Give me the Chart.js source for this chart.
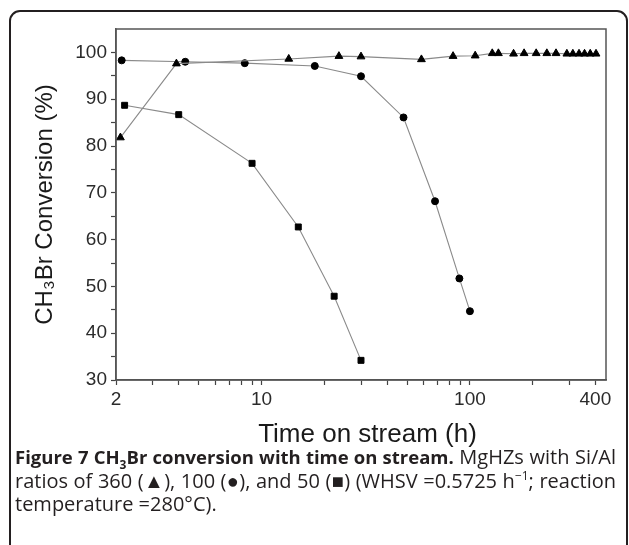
<!DOCTYPE html>
<html>
<head>
<meta charset="utf-8">
<script src="https://cdn.jsdelivr.net/npm/chart.js@4.4.1/dist/chart.umd.min.js"></script>
<style>
  html, body { margin: 0; padding: 0; background: #fff; overflow: hidden; }
  body { width: 629px; height: 545px; position: relative; }
  #frame { position: absolute; left: 9px; top: 10px; width: 615px; height: 600px;
           border: 2px solid #231f20; border-radius: 11px; }
  #wrap { position: absolute; left: 0; top: 0; width: 629px; height: 450px; }
  #caption { position: absolute; left: 15px; top: 445px; width: 601px;
             font-family: "Open Sans", sans-serif; font-size: 20px; line-height: 23.5px; color: #231f20; }
  #caption b { font-size: 18.5px; }
  #caption .j { text-align: justify; text-align-last: justify; white-space: nowrap; }
  #caption sub, #caption sup { font-size: 12px; line-height: 0; }
</style>
</head>
<body>
<div id="frame"></div>
<div id="wrap"><canvas id="chart" width="629" height="450"></canvas></div>
<div id="caption">
  <div class="j"><b>Figure 7 CH<sub>3</sub>Br conversion with time on stream.</b> MgHZs with Si/Al</div>
  <div class="j">ratios of 360 (▲), 100 (●), and 50 (■) (WHSV =0.5725 h<sup>−1</sup>; reaction</div>
  <div>temperature =280°C).</div>
</div>
<script>
// Si/Al = 360 (triangles)
var hours360 = [2.1, 3.9, 13.5, 23.5, 30, 58.5, 83, 106, 128, 137, 162, 182, 208, 234, 259, 292, 312, 334, 355, 378, 403];
var conv360  = [81.8, 97.6, 98.6, 99.2, 99.1, 98.5, 99.2, 99.3, 99.8, 99.8, 99.7, 99.8, 99.8, 99.8, 99.8, 99.7, 99.7, 99.7, 99.7, 99.7, 99.7];
// Si/Al = 100 (circles)
var hours100 = [2.13, 4.3, 8.3, 18, 30, 48, 68, 89, 100];
var conv100  = [98.3, 98.0, 97.7, 97.1, 94.9, 86.1, 68.2, 51.7, 44.7];
// Si/Al = 50 (squares)
var hours50 = [2.2, 4.0, 9.0, 15, 22.3, 30];
var conv50  = [88.7, 86.7, 76.3, 62.7, 47.9, 34.2];

var xTicks = [2, 3, 4, 5, 6, 7, 8, 9, 10, 20, 30, 40, 50, 60, 70, 80, 90, 100, 200, 300, 400];
var xLabels = [2, 10, 100, 400];
var yTicks = [30, 35, 40, 45, 50, 55, 60, 65, 70, 75, 80, 85, 90, 95, 100];
var yLabels = [30, 40, 50, 60, 70, 80, 90, 100];

function pts(xs, ys) {
    return xs.map(function (x, i) { return { x: x, y: ys[i] }; });
}

function series(label, xs, ys, style, r) {
    return {
        label: label,
        data: pts(xs, ys),
        borderColor: '#8a8a8a',
        borderWidth: 1.1,
        pointStyle: style,
        pointRadius: r,
        pointBackgroundColor: '#000',
        pointBorderColor: '#000',
        pointBorderWidth: 1,
        fill: false,
        tension: 0
    };
}

var boxPlugin = {
    id: 'box',
    afterDraw: function (chart) {
        var a = chart.chartArea, ctx = chart.ctx;
        ctx.save();
        ctx.strokeStyle = '#555';
        ctx.lineWidth = 1.5;
        ctx.strokeRect(a.left, a.top, a.right - a.left, a.bottom - a.top);
        ctx.restore();
    }
};

var tickFont = { family: '"Liberation Sans", Arial, sans-serif', size: 19 };

var chart = new Chart(document.getElementById('chart').getContext('2d'), {
    type: 'line',
    data: {
        datasets: [
            series('360', hours360, conv360, 'triangle', 4.5),
            series('100', hours100, conv100, 'circle', 3.5),
            series('50', hours50, conv50, 'rect', 4.2)
        ]
    },
    options: {
        responsive: false,
        animation: false,
        devicePixelRatio: 1,
        layout: { padding: { left: 0, top: 29, right: 23, bottom: 0 } },
        plugins: { legend: { display: false }, tooltip: { enabled: false } },
        scales: {
            x: {
                type: 'logarithmic',
                min: 2,
                max: 450,
                afterBuildTicks: function (scale) {
                    scale.ticks = xTicks.map(function (v) { return { value: v }; });
                },
                afterFit: function (scale) { scale.height = 70; },
                grid: { drawOnChartArea: false, tickLength: 5, color: '#444', tickWidth: 1.2 },
                border: { color: '#555', width: 1.5 },
                ticks: {
                    autoSkip: false,
                    maxRotation: 0,
                    padding: 3,
                    color: '#2b2b2b',
                    font: tickFont,
                    callback: function (v) { return xLabels.indexOf(v) >= 0 ? String(v) : ''; }
                },
                title: { display: true, text: '\u2002Time on stream (h)', color: '#1a1a1a',
                         font: { family: '"Liberation Sans", Arial, sans-serif', size: 26 }, padding: { top: 0, bottom: 0 } }
            },
            y: {
                min: 30,
                max: 105,
                afterBuildTicks: function (scale) {
                    scale.ticks = yTicks.map(function (v) { return { value: v }; });
                },
                afterFit: function (scale) { scale.width = 116; },
                grid: { drawOnChartArea: false, tickLength: 5, color: '#444', tickWidth: 1.2 },
                border: { color: '#555', width: 1.5 },
                ticks: {
                    autoSkip: false,
                    padding: 4,
                    color: '#2b2b2b',
                    font: tickFont,
                    callback: function (v) { return yLabels.indexOf(v) >= 0 ? String(v) : ''; }
                },
                title: { display: true, text: 'CH₃Br Conversion (%)', color: '#1a1a1a',
                         font: { family: '"Liberation Sans", Arial, sans-serif', size: 24 }, padding: { top: 31, bottom: 0 } }
            }
        }
    },
    plugins: [boxPlugin]
});
</script>
</body>
</html>
